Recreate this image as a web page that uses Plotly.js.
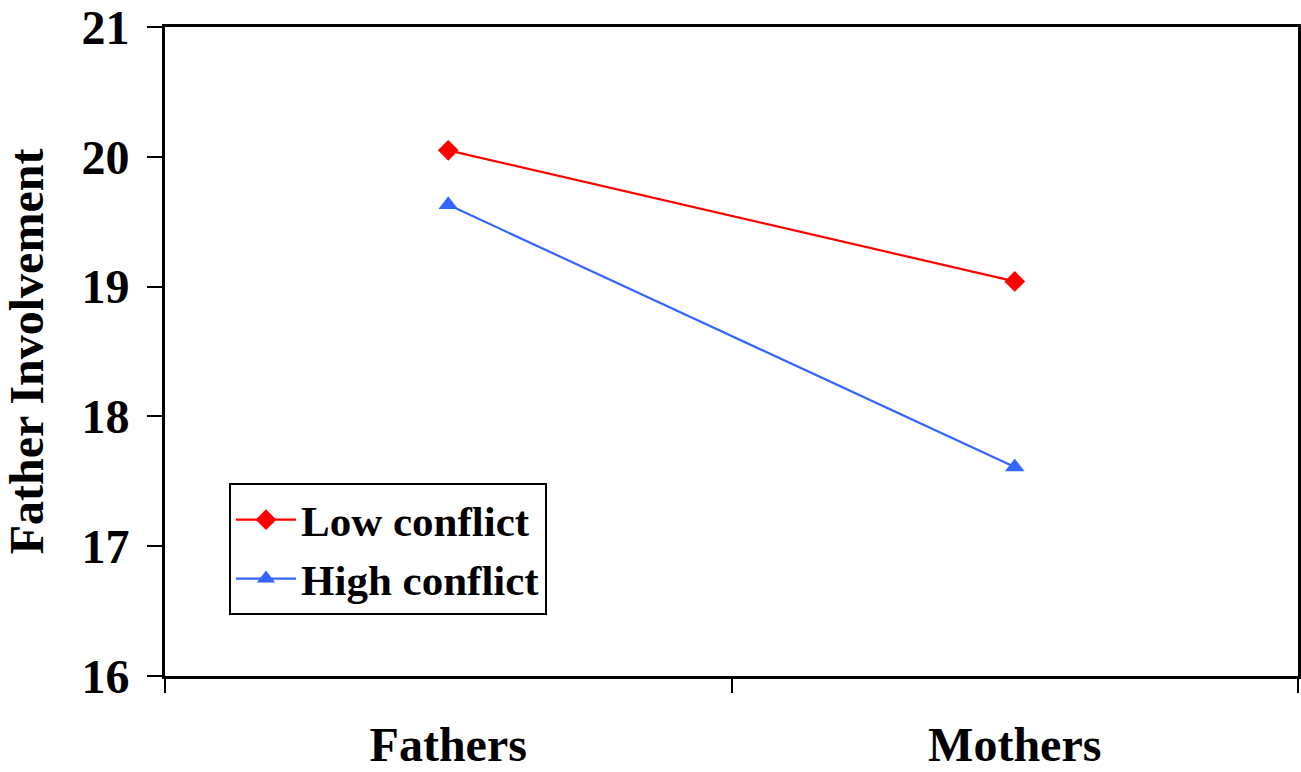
<!DOCTYPE html>
<html>
<head>
<meta charset="utf-8">
<script src="https://cdn.plot.ly/plotly-3.0.1.min.js"></script>
<style>html,body{margin:0;padding:0;background:#fff;}#chart{width:1301px;height:772px;}</style>
</head>
<body>
<div id="chart"></div>
<script>
const categories = ["Fathers", "Mothers"];
const lowConflict = [20.05, 19.04];
const highConflict = [19.63, 17.61];
const yTicks = [16, 17, 18, 19, 20, 21];
const seriesNames = ["Low conflict", "High conflict"];
const yTitle = "Father Involvement";

const FONT = "'Liberation Serif', 'Times New Roman', serif";

const traces = [
  {
    x: categories, y: lowConflict, name: seriesNames[0], type: "scatter", mode: "lines+markers",
    line: {color: "#FF0000", width: 2.2},
    marker: {symbol: "diamond", size: 16, color: "#FF0000"}
  },
  {
    x: categories, y: highConflict, name: seriesNames[1], type: "scatter", mode: "lines+markers",
    line: {color: "#3366FF", width: 2.2},
    marker: {symbol: "triangle-up", size: 17, color: "#3366FF"}
  }
];

const layout = {
  width: 1301, height: 772,
  margin: {l: 165, r: 3, t: 27, b: 96},
  paper_bgcolor: "#fff", plot_bgcolor: "#fff",
  font: {family: FONT, color: "#000", size: 44},
  showlegend: true,
  legend: {
    x: 0.0565, y: 0.297, xanchor: "left", yanchor: "top",
    bordercolor: "#000", borderwidth: 2, bgcolor: "#fff",
    font: {family: FONT, size: 43, color: "#000", weight: "bold"},
    itemwidth: 60,
    tracegroupgap: 0
  },
  xaxis: {
    type: "category", range: [-0.5, 1.5],
    tickson: "boundaries", ticks: "outside", ticklen: 14, tickwidth: 2, tickcolor: "#000",
    showline: true, linecolor: "#000", linewidth: 3, mirror: true,
    showgrid: false, zeroline: false,
    tickfont: {family: FONT, size: 48, color: "#000", weight: "bold"},
    ticklabelstandoff: 24
  },
  yaxis: {
    range: [16, 21], tickvals: yTicks, ticktext: yTicks.map(String),
    ticks: "outside", ticklen: 15, tickwidth: 2, tickcolor: "#000",
    showline: true, linecolor: "#000", linewidth: 3, mirror: true,
    showgrid: false, zeroline: false,
    tickfont: {family: FONT, size: 48, color: "#000", weight: "bold"},
    ticklabelstandoff: 8,
    title: {text: yTitle, font: {family: FONT, size: 48, color: "#000", weight: "bold"}, standoff: 24}
  }
};

Plotly.newPlot("chart", traces, layout, {displayModeBar: false, staticPlot: true});
</script>
</body>
</html>
